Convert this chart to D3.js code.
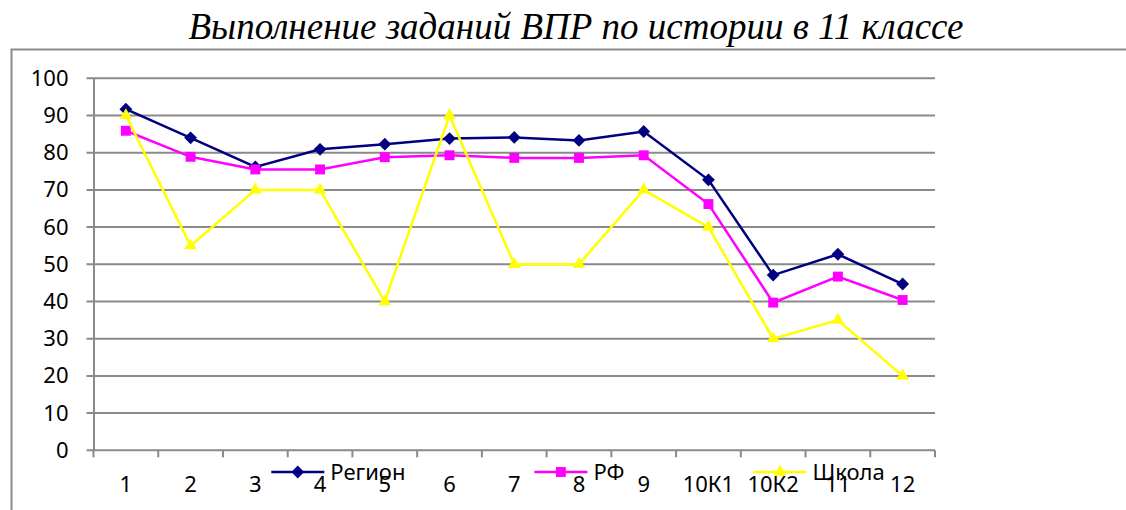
<!DOCTYPE html>
<html>
<head>
<meta charset="utf-8">
<script src="https://cdnjs.cloudflare.com/ajax/libs/d3/7.8.5/d3.min.js"></script>
<style>
  body { margin: 0; background: #fff; }
  text { font-family: "Noto Sans", "Open Sans", sans-serif; }
</style>
</head>
<body>
<svg id="chart" width="1126" height="510"></svg>
<script>
// data
var categories = ['1', '2', '3', '4', '5', '6', '7', '8', '9', '10К1', '10К2', '11', '12'];
var region = [91.7, 84.0, 76.2, 80.9, 82.3, 83.8, 84.1, 83.3, 85.7, 72.7, 47.1, 52.7, 44.7];
var rf = [85.9, 78.9, 75.5, 75.5, 78.8, 79.3, 78.6, 78.6, 79.3, 66.2, 39.7, 46.7, 40.4];
var school = [90, 55, 70, 70, 40, 90, 50, 50, 70, 60, 30, 35, 20];
var yTicks = [0, 10, 20, 30, 40, 50, 60, 70, 80, 90, 100];
var seriesNames = ['Регион', 'РФ', 'Школа'];

var series = [
  { name: seriesNames[0], values: region, color: '#000080', symbol: d3.symbolDiamond2, size: 105 },
  { name: seriesNames[1], values: rf, color: '#ff00ff', symbol: d3.symbolSquare2, size: 125 },
  { name: seriesNames[2], values: school, color: '#ffff00', symbol: d3.symbolTriangle2, size: 115 }
];

var svg = d3.select('#chart');
// plot area edges (note: "top" is reserved on window, so use longer names)
var plotLeft = 93.5, plotRight = 935, plotTop = 78.3, plotBottom = 450.3;
var gridColor = '#8a8a8a';
var fontSize = '22px';

var x = d3.scaleBand().domain(categories).range([plotLeft, plotRight]);
var y = d3.scaleLinear().domain([0, 100]).range([plotBottom, plotTop]);

// outer chart border (only top and left are in view)
svg.append('path')
  .attr('d', 'M11.5,510V49.5H1126')
  .attr('fill', 'none')
  .attr('stroke', gridColor)
  .attr('stroke-width', 2);

// title
svg.append('text')
  .attr('x', 576)
  .attr('y', 39)
  .attr('text-anchor', 'middle')
  .style('font-family', '"Liberation Serif", "DejaVu Serif", serif')
  .style('font-style', 'italic')
  .style('font-size', '37px')
  .text('Выполнение заданий ВПР по истории в 11 классе');

// gridlines
svg.append('g').selectAll('line')
  .data(yTicks)
  .enter().append('line')
  .attr('x1', plotLeft - 7).attr('x2', plotRight)
  .attr('y1', function(d) { return y(d); })
  .attr('y2', function(d) { return y(d); })
  .attr('stroke', gridColor)
  .attr('stroke-width', 2);

// y axis
var yAxis = svg.append('g')
  .attr('transform', 'translate(' + plotLeft + ',0)')
  .call(d3.axisLeft(y).tickValues(yTicks).tickSize(0).tickPadding(25));
yAxis.select('.domain').attr('stroke', gridColor).attr('stroke-width', 2);
yAxis.selectAll('text').style('font-size', fontSize).attr('fill', '#000');

// x axis
var xAxis = svg.append('g')
  .attr('transform', 'translate(0,' + plotBottom + ')')
  .call(d3.axisBottom(x).tickSize(0).tickPadding(26));
xAxis.select('.domain').remove();
xAxis.selectAll('text').style('font-size', fontSize).attr('fill', '#000');

// tick marks on the category borders
var borders = d3.range(categories.length + 1).map(function(i) { return plotLeft + i * x.step(); });
svg.append('g').selectAll('line')
  .data(borders)
  .enter().append('line')
  .attr('x1', function(d) { return d; })
  .attr('x2', function(d) { return d; })
  .attr('y1', plotBottom).attr('y2', plotBottom + 7)
  .attr('stroke', gridColor)
  .attr('stroke-width', 2);

// lines and markers
var line = d3.line()
  .x(function(d, i) { return x(categories[i]) + x.bandwidth() / 2; })
  .y(function(d) { return y(d); });

series.forEach(function(s) {
  var g = svg.append('g');
  g.append('path')
    .attr('d', line(s.values))
    .attr('fill', 'none')
    .attr('stroke', s.color)
    .attr('stroke-width', 2.5);
  g.selectAll('path.mark')
    .data(s.values)
    .enter().append('path')
    .attr('class', 'mark')
    .attr('d', d3.symbol().type(s.symbol).size(s.size))
    .attr('transform', function(d, i) {
      return 'translate(' + (x(categories[i]) + x.bandwidth() / 2) + ',' + y(d) + ')';
    })
    .attr('fill', s.color);
});

// legend, drawn over the x labels like in the picture
var legend = svg.append('g');
var items = series.map(function(s) {
  var g = legend.append('g');
  g.append('line')
    .attr('x1', 0).attr('x2', 53)
    .attr('y1', 0).attr('y2', 0)
    .attr('stroke', s.color)
    .attr('stroke-width', 2.5);
  g.append('path')
    .attr('d', d3.symbol().type(s.symbol).size(s.size))
    .attr('transform', 'translate(26.5,0)')
    .attr('fill', s.color);
  var t = g.append('text')
    .attr('x', 59)
    .attr('y', 8)
    .style('font-size', fontSize)
    .text(s.name);
  return { g: g, w: 59 + t.node().getComputedTextLength() };
});
var gap = 129;
var total = d3.sum(items, function(d) { return d.w; }) + gap * (items.length - 1);
var lx = 578 - total / 2;
items.forEach(function(it) {
  it.g.attr('transform', 'translate(' + lx + ',472)');
  lx += it.w + gap;
});
</script>
</body>
</html>
